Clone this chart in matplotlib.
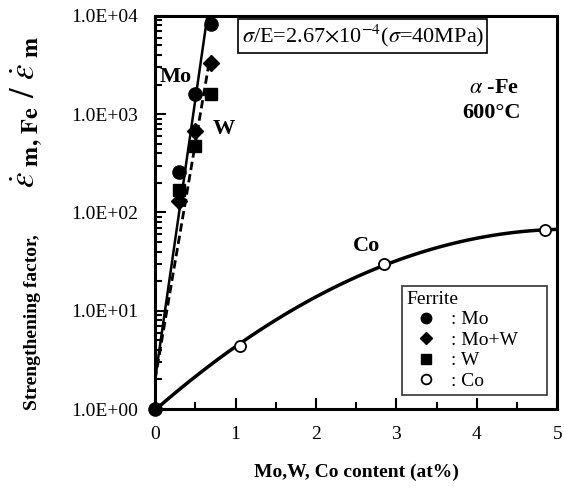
import numpy as np
import matplotlib
matplotlib.use("Agg")
import matplotlib.pyplot as plt
from matplotlib.ticker import FixedLocator, LogLocator, NullFormatter, MultipleLocator

plt.rcParams['font.family'] = ['Liberation Serif', 'DejaVu Serif']
plt.rcParams['mathtext.fontset'] = 'stix'

# data
mo_x = [0.0, 0.3, 0.5, 0.7]
mo_y = [1.0, 260, 1600, 8200]
mow_x = [0.3, 0.5, 0.7]
mow_y = [130, 680, 3300]
w_x = [0.3, 0.5, 0.7]
w_y = [170, 480, 1600]
co_x = [1.05, 2.85, 4.85]
co_y = [4.4, 30, 66]

# fitted lines as drawn in the figure
mo_fit_x = [0.0, 0.65]
mo_fit_y = [2.0, 1.0e4]
w_fit_x = [0.0, 0.67]
w_fit_y = [2.0, 3300]

yticks = [1, 10, 100, 1000, 10000]
ytick_labels = ['1.0E+00', '1.0E+01', '1.0E+02', '1.0E+03', '1.0E+04']

fig = plt.figure(figsize=(5.64, 4.97), dpi=100)
ax = fig.add_axes([0.275, 0.177, 0.713, 0.791])

# straight fits (log-linear)
ax.plot(mo_fit_x, mo_fit_y, color='black', lw=1.8)
ax.plot(w_fit_x, w_fit_y, color='black', lw=2.0, ls=(0, (3, 1.5)))

# Co curve: quadratic in log10(y), through the origin point and the Co points
cx = [0.0] + co_x
cy = np.log10([1.0] + co_y)
p = np.polyfit(cx, cy, 2)
xc = np.linspace(0, 5, 200)
ax.plot(xc, 10 ** np.polyval(p, xc), color='black', lw=2.5)

ax.plot(mo_x, mo_y, 'o', color='black', ms=9.5, clip_on=False, zorder=5)
ax.plot(mow_x, mow_y, 'D', color='black', ms=8, clip_on=False, zorder=5)
ax.plot(w_x, w_y, 's', color='black', ms=8.5, clip_on=False, zorder=5)
ax.plot(co_x, co_y, 'o', mfc='white', mec='black', mew=1.3, ms=8, zorder=5)

ax.set_yscale('log')
ax.set_xlim(0, 5)
ax.set_ylim(1, 1e4)
ax.yaxis.set_major_locator(FixedLocator(yticks))
ax.set_yticklabels(ytick_labels)
ax.yaxis.set_minor_locator(LogLocator(base=10, subs=np.arange(2, 10)))
ax.yaxis.set_minor_formatter(NullFormatter())
ax.xaxis.set_major_locator(MultipleLocator(1))
ax.xaxis.set_minor_locator(MultipleLocator(0.5))

ax.tick_params(which='both', direction='in', labelsize=14, width=1.5, pad=12)
ax.tick_params(which='major', length=8)
ax.tick_params(which='minor', length=5)
for s in ax.spines.values():
    s.set_linewidth(2.2)

ax.set_xlabel('Mo,W, Co content (at%)', fontsize=14, fontweight='bold', labelpad=15)

# y label: plain words plus a larger strain-rate ratio
fig.text(33 / 564, 1 - 322 / 497, 'Strengthening factor,', rotation=90, fontsize=14,
         fontweight='bold', ha='center', va='center')
fig.text(27 / 564, 1 - 112 / 497,
         r'$\dot{\varepsilon}_{\ \mathbf{m,\,Fe}}\ /\ \dot{\varepsilon}_{\ \mathbf{m}}$',
         rotation=90, fontsize=25, ha='center', va='center')

ax.text(0.215, 0.949, r'$\sigma$/E=2.67$\times$10$^{-4}$($\sigma$=40MPa)', transform=ax.transAxes,
        fontsize=16, ha='left', va='center',
        bbox=dict(boxstyle='square,pad=0.15', fc='white', ec='black', lw=1.2))
ax.text(0.905, 0.817, r'$\alpha$ -Fe', transform=ax.transAxes, fontsize=16,
        fontweight='bold', ha='right', va='center')
ax.text(0.91, 0.753, '600°C', transform=ax.transAxes, fontsize=16,
        fontweight='bold', ha='right', va='center')
ax.text(0.26, 2400, 'Mo', fontsize=16, fontweight='bold', ha='center', va='center')
ax.text(0.86, 700, 'W', fontsize=16, fontweight='bold', ha='center', va='center')
ax.text(2.63, 46, 'Co', fontsize=16, fontweight='bold', ha='center', va='center')

# legend
h1, = ax.plot([], [], 'o', color='black', ms=7.5)
h2, = ax.plot([], [], 'D', color='black', ms=6.5)
h3, = ax.plot([], [], 's', color='black', ms=7)
h4, = ax.plot([], [], 'o', mfc='white', mec='black', mew=1.3, ms=7)
leg = ax.legend([h1, h2, h3, h4], [': Mo', ': Mo+W     ', ': W', ': Co'], title='Ferrite',
                loc='lower right', bbox_to_anchor=(0.975, 0.036), borderaxespad=0,
                fontsize=14, title_fontsize=14,
                frameon=True, fancybox=False, edgecolor='black', handlelength=2.0,
                handletextpad=0.3, labelspacing=0.15, borderpad=0.25, alignment='left')
leg.get_frame().set_linewidth(1.2)

fig.savefig('out.png', dpi=100)
